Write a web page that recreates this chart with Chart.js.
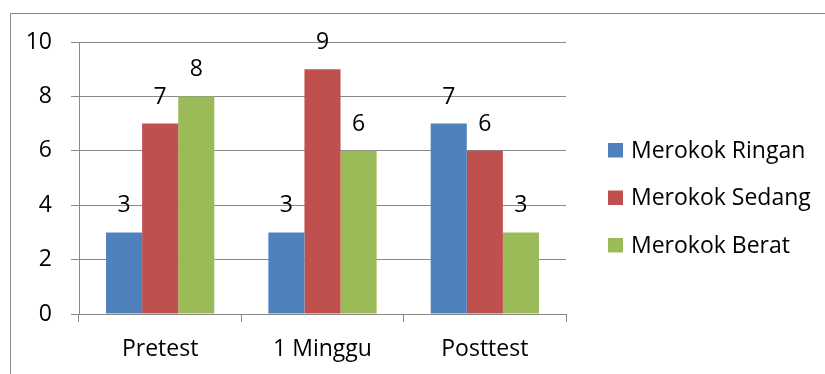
<!DOCTYPE html>
<html>
<head>
<meta charset="utf-8">
<script src="https://cdn.jsdelivr.net/npm/chart.js@4/dist/chart.umd.min.js"></script>
<style>
  html, body { margin: 0; padding: 0; background: #fff; }
  #wrap { width: 825px; height: 374px; }
</style>
</head>
<body>
<div id="wrap"><canvas id="c" width="825" height="374"></canvas></div>
<script>
// Categories and series
const categories = ['Pretest', '1 Minggu', 'Posttest'];
const seriesNames = ['Merokok Ringan', 'Merokok Sedang', 'Merokok Berat'];
const ringan = [3, 3, 7];
const sedang = [7, 9, 6];
const berat = [8, 6, 3];
const yTicks = [0, 2, 4, 6, 8, 10];

const colors = ['#4F81BD', '#C0504D', '#9BBB59'];
const FONT = '"Open Sans", "Noto Sans", sans-serif';
const FONT_SIZE = 23;
const GRID = '#8a8a8a';

// Outer frame around the whole chart
const framePlugin = {
  id: 'frame',
  beforeDraw(chart) {
    const ctx = chart.ctx;
    ctx.save();
    ctx.fillStyle = '#fff';
    ctx.fillRect(0, 0, chart.width, chart.height);
    ctx.strokeStyle = GRID;
    ctx.lineWidth = 1;
    ctx.strokeRect(10.5, 13.5, 1000, 1000);
    ctx.restore();
  }
};

// Value labels above each bar
const valueLabels = {
  id: 'valueLabels',
  afterDatasetsDraw(chart) {
    const ctx = chart.ctx;
    ctx.save();
    ctx.font = FONT_SIZE + 'px ' + FONT;
    ctx.fillStyle = '#000';
    ctx.textAlign = 'center';
    ctx.textBaseline = 'alphabetic';
    chart.data.datasets.forEach((ds, i) => {
      chart.getDatasetMeta(i).data.forEach((el, j) => {
        ctx.fillText(String(ds.data[j]), el.x, el.y - 20);
      });
    });
    ctx.restore();
  }
};

// Legend at the right, one row per series
const sideLegend = {
  id: 'sideLegend',
  afterDraw(chart) {
    const ctx = chart.ctx;
    ctx.save();
    ctx.font = FONT_SIZE + 'px ' + FONT;
    ctx.textAlign = 'left';
    ctx.textBaseline = 'alphabetic';
    chart.data.datasets.forEach((ds, i) => {
      const top = 143 + i * 47.5;
      ctx.fillStyle = ds.backgroundColor;
      ctx.fillRect(608, top, 15, 14.5);
      ctx.fillStyle = '#000';
      ctx.fillText(ds.label, 631, top + 14.5);
    });
    ctx.restore();
  }
};

new Chart(document.getElementById('c'), {
  type: 'bar',
  data: {
    labels: categories,
    datasets: [
      { label: seriesNames[0], data: ringan, backgroundColor: colors[0] },
      { label: seriesNames[1], data: sedang, backgroundColor: colors[1] },
      { label: seriesNames[2], data: berat, backgroundColor: colors[2] }
    ]
  },
  options: {
    responsive: false,
    animation: false,
    devicePixelRatio: 1,
    categoryPercentage: 0.667,
    barPercentage: 1,
    layout: { padding: { top: 42, right: 259, left: 0, bottom: 0 } },
    plugins: { legend: { display: false }, tooltip: { enabled: false } },
    scales: {
      x: {
        grid: { display: true, drawOnChartArea: false, offset: true, color: GRID, tickLength: 8 },
        border: { color: GRID },
        ticks: { color: '#000', font: { family: FONT, size: FONT_SIZE }, padding: 14 },
        afterFit(scale) { scale.height = 60; }
      },
      y: {
        min: 0,
        max: 10,
        afterBuildTicks(scale) { scale.ticks = yTicks.map(v => ({ value: v })); },
        grid: { color: GRID, tickLength: 8 },
        border: { color: GRID },
        ticks: { color: '#000', font: { family: FONT, size: FONT_SIZE }, padding: 19 },
        afterFit(scale) { scale.width = 79; }
      }
    }
  },
  plugins: [framePlugin, valueLabels, sideLegend]
});
</script>
</body>
</html>
